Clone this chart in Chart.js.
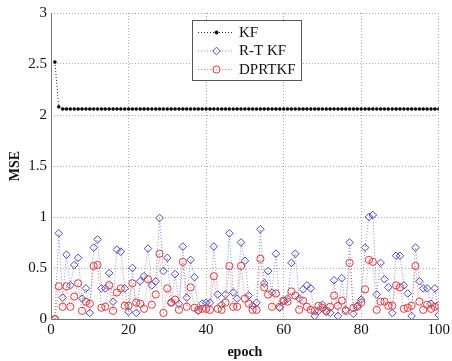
<!DOCTYPE html>
<html>
<head>
<meta charset="utf-8">
<script src="https://cdn.jsdelivr.net/npm/chart.js@4.4.1/dist/chart.umd.min.js"></script>
<style>
  html, body { margin: 0; padding: 0; background: #fff; }
  #wrap { width: 452px; height: 361px; }
</style>
</head>
<body>
<div id="wrap"><canvas id="c" width="452" height="361"></canvas></div>
<script>
// epoch 1..100
const epochs = [
  1, 2, 3, 4, 5, 6, 7, 8, 9, 10, 11, 12, 13, 14, 15, 16, 17, 18, 19, 20,
  21, 22, 23, 24, 25, 26, 27, 28, 29, 30, 31, 32, 33, 34, 35, 36, 37, 38, 39, 40,
  41, 42, 43, 44, 45, 46, 47, 48, 49, 50, 51, 52, 53, 54, 55, 56, 57, 58, 59, 60,
  61, 62, 63, 64, 65, 66, 67, 68, 69, 70, 71, 72, 73, 74, 75, 76, 77, 78, 79, 80,
  81, 82, 83, 84, 85, 86, 87, 88, 89, 90, 91, 92, 93, 94, 95, 96, 97, 98, 99, 100,
];

const kfMse = [
  2.52, 2.08, 2.06, 2.06, 2.06, 2.06, 2.06, 2.06, 2.06, 2.06, 2.06, 2.06, 2.06, 2.06, 2.06, 2.06, 2.06, 2.06, 2.06, 2.06,
  2.06, 2.06, 2.06, 2.06, 2.06, 2.06, 2.06, 2.06, 2.06, 2.06, 2.06, 2.06, 2.06, 2.06, 2.06, 2.06, 2.06, 2.06, 2.06, 2.06,
  2.06, 2.06, 2.06, 2.06, 2.06, 2.06, 2.06, 2.06, 2.06, 2.06, 2.06, 2.06, 2.06, 2.06, 2.06, 2.06, 2.06, 2.06, 2.06, 2.06,
  2.06, 2.06, 2.06, 2.06, 2.06, 2.06, 2.06, 2.06, 2.06, 2.06, 2.06, 2.06, 2.06, 2.06, 2.06, 2.06, 2.06, 2.06, 2.06, 2.06,
  2.06, 2.06, 2.06, 2.06, 2.06, 2.06, 2.06, 2.06, 2.06, 2.06, 2.06, 2.06, 2.06, 2.06, 2.06, 2.06, 2.06, 2.06, 2.06, 2.06,
];

const rtkfMse = [
  0.00, 0.84, 0.21, 0.63, 0.33, 0.53, 0.60, 0.20, 0.30, 0.06, 0.70, 0.78, 0.30, 0.30, 0.45, 0.17, 0.68, 0.66, 0.30, 0.07,
  0.50, 0.06, 0.37, 0.42, 0.69, 0.33, 0.37, 0.99, 0.47, 0.60, 0.16, 0.44, 0.15, 0.71, 0.21, 0.58, 0.41, 0.08, 0.15, 0.16,
  0.16, 0.71, 0.24, 0.14, 0.24, 0.84, 0.26, 0.20, 0.75, 0.57, 0.23, 0.13, 0.16, 0.88, 0.35, 0.47, 0.26, 0.64, 0.11, 0.18,
  0.20, 0.55, 0.64, 0.20, 0.29, 0.33, 0.30, 0.03, 0.08, 0.14, 0.07, 0.06, 0.38, 0.03, 0.40, 0.09, 0.75, 0.05, 0.13, 0.19,
  0.70, 1.00, 1.02, 0.24, 0.55, 0.39, 0.31, 0.06, 0.62, 0.62, 0.33, 0.25, 0.03, 0.70, 0.37, 0.30, 0.30, 0.15, 0.30, 0.04,
];

const dprtkfMse = [
  0.00, 0.32, 0.12, 0.32, 0.12, 0.22, 0.35, 0.08, 0.17, 0.15, 0.52, 0.53, 0.11, 0.12, 0.33, 0.08, 0.26, 0.30, 0.13, 0.13,
  0.35, 0.16, 0.15, 0.10, 0.39, 0.14, 0.24, 0.64, 0.06, 0.30, 0.16, 0.19, 0.09, 0.56, 0.12, 0.31, 0.11, 0.09, 0.10, 0.10,
  0.09, 0.42, 0.10, 0.09, 0.16, 0.52, 0.12, 0.12, 0.52, 0.20, 0.15, 0.09, 0.09, 0.59, 0.31, 0.24, 0.12, 0.25, 0.12, 0.18,
  0.17, 0.27, 0.23, 0.09, 0.18, 0.12, 0.09, 0.08, 0.13, 0.11, 0.08, 0.12, 0.23, 0.13, 0.18, 0.08, 0.55, 0.11, 0.12, 0.16,
  0.29, 0.58, 0.56, 0.09, 0.17, 0.17, 0.13, 0.13, 0.33, 0.31, 0.10, 0.11, 0.13, 0.52, 0.17, 0.09, 0.14, 0.10, 0.12, 0.13,
];

const seriesNames = ['KF', 'R-T KF', 'DPRTKF'];
const xTicks = [0, 20, 40, 60, 80, 100];
const yTicks = [0, 0.5, 1, 1.5, 2, 2.5, 3];

const SERIF = '"Liberation Serif", "Times New Roman", serif';

const toPoints = vals => vals.map((v, i) => ({ x: epochs[i], y: v }));

// 左・下の軸線（実線）
const solidAxes = {
  id: 'solidAxes',
  beforeDatasetsDraw(chart) {
    const { ctx, chartArea: a } = chart;
    ctx.save();
    ctx.strokeStyle = '#777';
    ctx.lineWidth = 1;
    ctx.beginPath();
    ctx.moveTo(Math.round(a.left) + 0.5, a.top);
    ctx.lineTo(Math.round(a.left) + 0.5, Math.round(a.bottom) + 0.5);
    ctx.lineTo(a.right, Math.round(a.bottom) + 0.5);
    ctx.stroke();
    ctx.restore();
  },
};

// MATLAB風の凡例（枠付き、プロット内）
const boxLegend = {
  id: 'boxLegend',
  afterDraw(chart) {
    const ctx = chart.ctx;
    const x0 = 192, y0 = 20, w = 109, h = 60;
    ctx.save();
    ctx.fillStyle = '#fff';
    ctx.fillRect(x0, y0, w, h);
    ctx.strokeStyle = '#555';
    ctx.lineWidth = 1;
    ctx.strokeRect(x0 + 0.5, y0 + 0.5, w, h);
    chart.data.datasets.forEach((ds, i) => {
      const y = y0 + 12 + i * 18.5;
      ctx.save();
      ctx.strokeStyle = ds.borderColor;
      ctx.lineWidth = 1;
      ctx.setLineDash([1, 2]);
      ctx.beginPath();
      ctx.moveTo(198, y + 0.5);
      ctx.lineTo(234, y + 0.5);
      ctx.stroke();
      ctx.restore();
      ctx.save();
      ctx.fillStyle = ds.pointBackgroundColor;
      ctx.strokeStyle = ds.pointBorderColor;
      ctx.lineWidth = 1;
      Chart.helpers.drawPoint(ctx, { pointStyle: ds.pointStyle, radius: ds.pointRadius, rotation: 0, borderWidth: 1 }, 216.5, y + 0.5);
      ctx.restore();
      ctx.fillStyle = '#111';
      ctx.font = '15px ' + SERIF;
      ctx.textBaseline = 'middle';
      ctx.fillText(ds.label, 239, y + 1);
    });
    ctx.restore();
  },
};

new Chart(document.getElementById('c'), {
  type: 'line',
  data: {
    datasets: [
      {
        label: seriesNames[0],
        data: toPoints(kfMse),
        borderColor: '#222',
        borderWidth: 1,
        borderDash: [1, 2],
        pointStyle: 'circle',
        pointRadius: 1.5,
        pointBackgroundColor: '#000',
        pointBorderColor: '#000',
        pointBorderWidth: 0.5,
        order: 0,
      },
      {
        label: seriesNames[1],
        data: toPoints(rtkfMse),
        borderColor: 'rgba(90, 90, 200, 0.7)',
        borderWidth: 1,
        borderDash: [1, 2],
        pointStyle: 'rectRot',
        pointRadius: 3.8,
        pointBackgroundColor: 'rgba(0,0,0,0)',
        pointBorderColor: '#4848b8',
        pointBorderWidth: 1,
        order: 2,
      },
      {
        label: seriesNames[2],
        data: toPoints(dprtkfMse),
        borderColor: 'rgba(220, 80, 80, 0.7)',
        borderWidth: 1,
        borderDash: [1, 2],
        pointStyle: 'circle',
        pointRadius: 3.6,
        pointBackgroundColor: 'rgba(0,0,0,0)',
        pointBorderColor: '#e03a3a',
        pointBorderWidth: 1,
        order: 1,
      },
    ],
  },
  options: {
    responsive: false,
    animation: false,
    layout: { padding: { left: 7, top: 5, right: 0, bottom: 0 } },
    plugins: {
      legend: { display: false },
      tooltip: { enabled: false },
    },
    scales: {
      x: {
        type: 'linear',
        min: 0,
        max: 100,
        afterBuildTicks: s => { s.ticks = xTicks.map(v => ({ value: v })); },
        afterFit: s => { s.height = 42; },
        ticks: { color: '#111', font: { family: SERIF, size: 15 }, padding: 2, maxRotation: 0, callback: v => String(v) },
        grid: { color: '#aaa', drawTicks: false },
        border: { display: false, dash: [1, 2] },
        title: { display: true, text: 'epoch', color: '#111', font: { family: SERIF, size: 14, weight: 'bold' }, padding: { top: 0, bottom: 0 } },
      },
      y: {
        min: 0,
        max: 3,
        afterBuildTicks: s => { s.ticks = yTicks.map(v => ({ value: v })); },
        afterFit: s => { s.width = 44; },
        ticks: { color: '#111', font: { family: SERIF, size: 15 }, padding: 4, callback: v => String(v) },
        grid: { color: '#aaa', drawTicks: false },
        border: { display: false, dash: [1, 2] },
        title: { display: true, text: 'MSE', color: '#111', font: { family: SERIF, size: 14, weight: 'bold' }, padding: { top: 0, bottom: 0 } },
      },
    },
  },
  plugins: [solidAxes, boxLegend],
});
</script>
</body>
</html>
